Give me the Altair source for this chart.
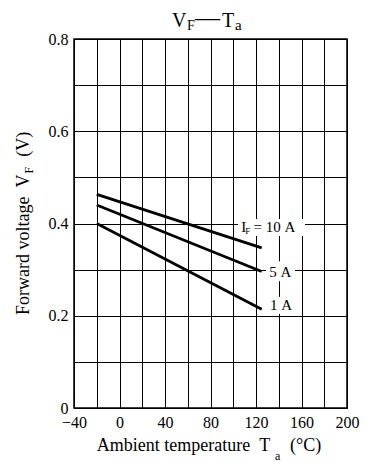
import altair as alt
import pandas as pd

# ---- data ----
temps = [-20, 125]
vf_10a = [0.463, 0.347]
vf_5a = [0.440, 0.296]
vf_1a = [0.400, 0.214]
series = ["10 A", "5 A", "1 A"]

x_ticks = list(range(-40, 201, 20))
y_ticks = [round(0.1 * i, 1) for i in range(9)]

# curve labels (pieces so that the subscript F can be drawn smaller)
label_text = ["I", "F", "=\u00a010\u00a0A", "5\u00a0A", "1\u00a0A"]
label_t = [107.0, 110.5, 117.8, 131.7, 132.3]
label_v = [0.381, 0.378, 0.381, 0.284, 0.2125]
label_size = [15, 9, 15, 15, 15]

# white boxes behind the curve labels (data units)
box_t0 = [104.2, 128.8, 128.8]
box_t1 = [163.1, 154.3, 154.3]
box_v0 = [0.373, 0.275, 0.204]
box_v1 = [0.410, 0.318, 0.241]

title_parts = ["V", "F", "\u2014", "T", "a"]
xtitle_parts = ["Ambient temperature\u00a0\u00a0T", "a", "(\u00b0C)"]
ytitle_parts = ["Forward voltage\u00a0\u00a0V", "F", "(V)"]

FONT = "Liberation Serif"

rows = []
for name, vals in zip(series, [vf_10a, vf_5a, vf_1a]):
    for t, v in zip(temps, vals):
        rows.append({"series": name, "t": t, "v": v})
lines_df = pd.DataFrame(rows)
labels_df = pd.DataFrame({"text": label_text, "t": label_t, "v": label_v, "size": label_size})
boxes_df = pd.DataFrame({"t": box_t0, "t2": box_t1, "v": box_v0, "v2": box_v1})

x_axis = alt.Axis(
    values=x_ticks,
    labelExpr="datum.value % 40 == 0 ? datum.label : ''",
    grid=True, gridColor="black", gridOpacity=1, gridWidth=1,
    ticks=False, domain=False, labelFlush=False, labelOverlap=False,
    labelFont=FONT, labelFontSize=16, labelColor="black", labelPadding=6,
    title=None,
)
y_axis = alt.Axis(
    values=y_ticks,
    labelExpr="round(datum.value * 10) % 2 == 0 ? format(datum.value, '~g') : ''",
    grid=True, gridColor="black", gridOpacity=1, gridWidth=1,
    ticks=False, domain=False, labelFlush=False, labelOverlap=False,
    labelFont=FONT, labelFontSize=16, labelColor="black", labelPadding=6,
    title=None,
)


def X():
    return alt.X("t:Q", scale=alt.Scale(domain=[-40, 200], nice=False, zero=False), axis=x_axis)


def Y():
    return alt.Y("v:Q", scale=alt.Scale(domain=[0, 0.8], nice=False, zero=False), axis=y_axis)


lines = alt.Chart(lines_df).mark_line(color="black", strokeWidth=2.8).encode(
    x=X(), y=Y(), detail="series:N"
)

boxes = alt.Chart(boxes_df).mark_rect(color="white").encode(
    x=X(), x2="t2:Q", y=Y(), y2="v2:Q"
)

labels = alt.Chart(labels_df).mark_text(
    align="left", baseline="alphabetic", font=FONT, color="black"
).encode(x=X(), y=Y(), text="text:N", size=alt.Size("size:Q", scale=None, legend=None))


def txt(s, px, py, size, angle=0):
    return alt.Chart(pd.DataFrame({"s": [s]})).mark_text(
        align="left", baseline="alphabetic", font=FONT, fontSize=size,
        angle=angle, color="black"
    ).encode(text="s:N", x=alt.value(px), y=alt.value(py))


title_layers = [
    txt(title_parts[0], 98, -12.5, 20),
    txt(title_parts[1], 113, -9.5, 14),
    txt(title_parts[2], 121, -13, 25),
    txt(title_parts[3], 148, -12.5, 20),
    txt(title_parts[4], 161, -9, 15),
]
xtitle_layers = [
    txt(xtitle_parts[0], 22.7, 412, 18),
    txt(xtitle_parts[1], 201, 421, 12),
    txt(xtitle_parts[2], 216, 412, 18),
]
ytitle_layers = [
    txt(ytitle_parts[0], -45, 276, 18, angle=270),
    txt(ytitle_parts[1], -41, 134.5, 12, angle=270),
    txt(ytitle_parts[2], -45, 117.8, 18, angle=270),
]

chart = alt.layer(
    lines, boxes, labels, *title_layers, *xtitle_layers, *ytitle_layers
).properties(
    width=273, height=369,
    autosize=alt.AutoSizeParams(type="none"),
    padding={"left": 66, "top": 31, "right": 15, "bottom": 54},
    background="white",
).configure_view(stroke="black", strokeWidth=1.5)

chart.save("out.html", embed_options={"renderer": "svg", "actions": False})
